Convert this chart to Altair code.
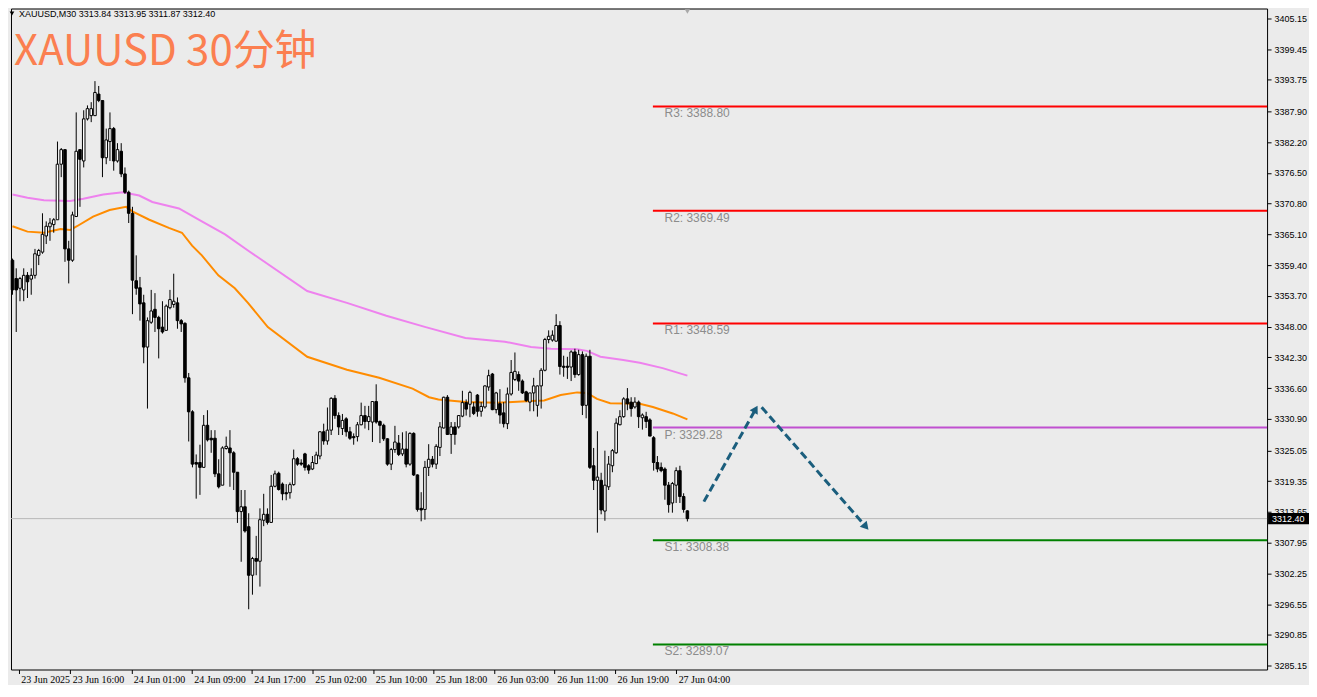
import math
import altair as alt
import pandas as pd

# ---------------- data (XAUUSD M30) ----------------
opens = [3360.3, 3356.9, 3355.1, 3354.8, 3357.5, 3356.8, 3357.5, 3361.2, 3361.8, 3364.8,
         3366.5, 3366.9, 3367.8, 3378.1, 3380.8, 3362.4, 3360.3, 3368.4, 3380.8, 3378.7,
         3386.5, 3387.1, 3387.1, 3391.1, 3389.9, 3379.3, 3382.3, 3384.7, 3378.7, 3380.5,
         3376.3, 3372.9, 3369.0, 3356.5, 3355.2, 3352.4, 3344.2, 3348.8, 3351.2, 3349.7,
         3347.9, 3347.3, 3351.5, 3352.1, 3352.4, 3349.1, 3348.6, 3338.5, 3332.2, 3322.8,
         3322.8, 3321.9, 3329.7, 3327.3, 3327.3, 3320.7, 3318.6, 3325.4, 3325.5, 3324.6,
         3321.0, 3313.7, 3314.6, 3310.9, 3301.9, 3305.0, 3304.5, 3312.1, 3313.2, 3311.7,
         3318.4, 3320.8, 3318.8, 3317.2, 3317.2, 3318.7, 3323.5, 3322.7, 3324.4, 3322.2,
         3321.6, 3322.6, 3324.0, 3328.5, 3326.8, 3328.8, 3334.7, 3331.5, 3329.1, 3330.9,
         3328.5, 3327.6, 3327.6, 3329.8, 3331.5, 3330.4, 3330.3, 3334.1, 3330.4, 3329.7,
         3327.2, 3322.5, 3325.2, 3326.4, 3324.4, 3325.3, 3322.5, 3328.2, 3320.5, 3314.3,
         3314.1, 3321.9, 3323.4, 3322.5, 3325.6, 3329.2, 3334.9, 3328.0, 3329.4, 3329.4,
         3331.4, 3333.9, 3333.6, 3333.1, 3335.3, 3332.3, 3333.1, 3336.8, 3339.2, 3332.6,
         3333.7, 3332.0, 3330.0, 3335.5, 3338.2, 3339.1, 3337.9, 3335.9, 3334.0, 3335.7,
         3333.4, 3337.0, 3339.9, 3345.6, 3345.5, 3345.3, 3348.2, 3340.6, 3340.6, 3340.5,
         3343.3, 3339.1, 3342.8, 3333.4, 3342.5, 3322.2, 3319.5, 3319.5, 3313.8, 3318.3,
         3322.2, 3324.6, 3329.8, 3331.3, 3334.6, 3334.0, 3333.1, 3334.0, 3331.1, 3331.3,
         3330.7, 3327.4, 3322.8, 3321.9, 3321.6, 3318.6, 3315.3, 3318.6, 3321.3, 3316.5,
         3313.84]
highs = [3360.6, 3358.8, 3357.2, 3358.8, 3358.1, 3358.8, 3362.4, 3362.4, 3369.0, 3367.5,
         3368.1, 3368.1, 3382.3, 3381.1, 3380.8, 3363.9, 3369.3, 3387.7, 3380.8, 3388.1,
         3389.0, 3389.6, 3393.5, 3392.6, 3389.9, 3384.7, 3387.7, 3385.0, 3382.0, 3382.0,
         3377.5, 3373.2, 3370.2, 3361.2, 3357.2, 3353.9, 3349.7, 3354.8, 3354.2, 3350.0,
         3352.7, 3352.1, 3354.8, 3357.8, 3353.4, 3349.4, 3348.8, 3339.4, 3332.5, 3324.3,
         3326.1, 3331.6, 3332.5, 3328.8, 3328.8, 3323.4, 3325.8, 3327.6, 3328.8, 3324.9,
         3321.0, 3317.7, 3317.7, 3313.4, 3305.3, 3309.2, 3314.3, 3317.0, 3314.3, 3320.5,
         3321.3, 3321.1, 3319.1, 3318.8, 3319.1, 3325.2, 3323.8, 3323.4, 3324.6, 3322.5,
         3324.0, 3324.8, 3328.6, 3330.0, 3333.0, 3334.9, 3335.3, 3332.1, 3331.8, 3331.2,
         3329.4, 3328.2, 3330.3, 3333.9, 3333.3, 3333.3, 3334.2, 3337.3, 3330.6, 3330.0,
         3327.3, 3325.5, 3329.6, 3327.9, 3328.4, 3328.6, 3328.4, 3328.4, 3320.6, 3317.3,
         3323.1, 3326.2, 3324.0, 3326.2, 3330.3, 3335.0, 3335.3, 3330.3, 3330.3, 3331.6,
         3336.1, 3334.5, 3336.1, 3334.0, 3335.5, 3334.0, 3337.1, 3340.0, 3339.4, 3335.9,
         3336.4, 3334.0, 3336.7, 3341.8, 3343.2, 3339.7, 3338.2, 3336.1, 3335.7, 3338.5,
         3337.1, 3340.3, 3345.9, 3347.3, 3347.3, 3350.3, 3349.0, 3342.6, 3342.4, 3343.6,
         3343.9, 3343.7, 3343.4, 3343.0, 3343.7, 3325.5, 3328.6, 3320.9, 3325.0, 3324.0,
         3325.3, 3331.0, 3332.5, 3334.9, 3336.6, 3334.9, 3334.9, 3334.3, 3331.9, 3332.2,
         3331.0, 3327.7, 3324.0, 3322.8, 3321.9, 3319.2, 3319.2, 3321.9, 3322.2, 3317.1,
         3313.95]
lows = [3353.9, 3347.0, 3352.7, 3352.7, 3353.3, 3353.9, 3356.9, 3359.4, 3361.5, 3363.3,
        3363.9, 3365.4, 3367.8, 3375.7, 3360.0, 3356.0, 3360.0, 3368.4, 3370.2, 3377.5,
        3386.2, 3385.9, 3387.1, 3389.6, 3375.7, 3378.1, 3378.7, 3376.9, 3378.4, 3375.7,
        3372.6, 3367.2, 3350.3, 3353.9, 3349.1, 3341.2, 3332.8, 3348.5, 3347.0, 3342.1,
        3346.7, 3347.3, 3351.2, 3351.5, 3347.6, 3347.0, 3337.6, 3326.7, 3321.9, 3316.1,
        3316.8, 3321.9, 3326.7, 3324.6, 3320.1, 3318.0, 3318.6, 3325.2, 3318.3, 3317.7,
        3311.6, 3304.4, 3309.8, 3295.6, 3298.3, 3301.9, 3299.8, 3311.0, 3311.3, 3311.6,
        3318.2, 3317.6, 3315.8, 3315.8, 3316.1, 3318.5, 3322.2, 3322.2, 3321.3, 3320.7,
        3321.4, 3322.5, 3323.4, 3326.1, 3326.1, 3327.9, 3330.9, 3327.9, 3327.9, 3327.6,
        3327.0, 3326.1, 3326.7, 3329.7, 3329.1, 3328.8, 3326.6, 3330.0, 3326.4, 3326.8,
        3322.2, 3321.4, 3324.6, 3324.0, 3324.0, 3321.9, 3322.2, 3320.3, 3313.7, 3311.9,
        3312.2, 3320.3, 3321.9, 3321.6, 3324.0, 3329.1, 3327.9, 3324.4, 3326.1, 3329.1,
        3331.2, 3331.5, 3331.2, 3331.6, 3331.3, 3331.3, 3332.8, 3336.1, 3332.5, 3331.9,
        3330.0, 3329.3, 3329.0, 3335.2, 3337.9, 3336.1, 3335.5, 3334.0, 3332.3, 3332.3,
        3331.3, 3332.8, 3339.7, 3344.9, 3345.2, 3345.2, 3339.1, 3338.7, 3338.3, 3337.9,
        3338.5, 3338.9, 3331.6, 3331.0, 3321.6, 3317.7, 3309.8, 3313.2, 3312.0, 3317.7,
        3321.0, 3324.4, 3329.7, 3331.1, 3332.5, 3331.3, 3332.8, 3329.2, 3328.9, 3329.2,
        3327.7, 3321.3, 3321.0, 3321.0, 3315.9, 3313.5, 3313.5, 3315.3, 3315.3, 3313.5,
        3311.87]
closes = [3354.8, 3354.8, 3356.9, 3357.5, 3356.3, 3357.5, 3361.5, 3362.1, 3365.1, 3366.6,
          3367.2, 3367.8, 3378.1, 3380.8, 3362.4, 3360.3, 3368.7, 3380.5, 3379.0, 3386.5,
          3388.4, 3388.4, 3391.4, 3389.9, 3379.3, 3382.6, 3384.7, 3378.7, 3380.8, 3376.3,
          3372.9, 3369.0, 3356.6, 3355.1, 3352.2, 3344.2, 3349.1, 3350.9, 3349.7, 3347.6,
          3347.0, 3351.8, 3353.0, 3352.7, 3349.1, 3348.5, 3338.5, 3332.2, 3322.5, 3322.5,
          3321.9, 3329.7, 3327.0, 3327.0, 3320.7, 3318.3, 3325.5, 3325.8, 3324.6, 3321.0,
          3313.7, 3314.6, 3310.1, 3301.9, 3305.0, 3304.5, 3312.2, 3313.2, 3311.7, 3318.4,
          3320.7, 3317.8, 3317.0, 3317.0, 3318.7, 3323.5, 3322.5, 3322.5, 3321.9, 3321.4,
          3322.8, 3324.2, 3328.5, 3326.8, 3328.8, 3334.7, 3331.5, 3329.4, 3330.6, 3328.5,
          3327.3, 3327.4, 3329.8, 3331.5, 3330.4, 3331.3, 3334.1, 3330.3, 3329.7, 3327.2,
          3322.5, 3325.2, 3326.6, 3324.3, 3325.3, 3322.5, 3328.2, 3320.5, 3314.1, 3314.0,
          3321.9, 3323.4, 3322.5, 3325.8, 3329.4, 3334.9, 3328.0, 3329.4, 3328.0, 3331.5,
          3333.9, 3332.7, 3335.8, 3331.9, 3332.3, 3333.2, 3337.0, 3338.9, 3332.6, 3335.7,
          3331.6, 3330.0, 3335.5, 3339.5, 3339.7, 3337.9, 3335.7, 3334.3, 3335.7, 3337.0,
          3337.0, 3339.9, 3345.6, 3346.2, 3346.4, 3348.2, 3340.6, 3340.5, 3340.5, 3343.3,
          3339.1, 3342.8, 3333.4, 3342.5, 3321.9, 3319.5, 3320.1, 3314.0, 3318.6, 3322.5,
          3325.0, 3330.1, 3331.3, 3334.6, 3333.7, 3332.8, 3334.0, 3331.3, 3331.6, 3330.4,
          3327.7, 3322.8, 3321.6, 3321.3, 3318.6, 3315.0, 3318.9, 3321.3, 3316.5, 3314.1,
          3312.40]

x_tick_pos = [1.7, 15.4, 31.7, 47.8, 63.8, 80.1, 96.2, 112.2, 128.6, 144.6, 160.7, 177.0]
x_tick_labels = ["23 Jun 2025", "23 Jun 16:00", "24 Jun 01:00", "24 Jun 09:00",
                 "24 Jun 17:00", "25 Jun 02:00", "25 Jun 10:00", "25 Jun 18:00",
                 "26 Jun 03:00", "26 Jun 11:00", "26 Jun 19:00", "27 Jun 04:00"]
y_ticks = [3405.15, 3399.45, 3393.75, 3387.90, 3382.20, 3376.50, 3370.80, 3365.10,
           3359.40, 3353.70, 3348.00, 3342.30, 3336.60, 3330.90, 3325.05, 3319.35,
           3313.65, 3307.95, 3302.25, 3296.55, 3290.85, 3285.15]

ma_orange_idx = [0, 4.0, 8.4, 12.8, 15.4, 17.2, 21.5, 25.9, 30.3, 32.1, 36.5, 41.7, 45.2,
                 47.9, 50.5, 54.9, 59.3, 62.8, 68.1, 78.6, 89.2, 97.8, 106.7, 111.1, 113.6,
                 120.8, 129.4, 138.3, 141.8, 146.2, 150.6, 153.2, 155.9, 159.4, 167.3, 170.8,
                 176.1, 180]
ma_orange_val = [3366.6, 3365.6, 3365.4, 3366.1, 3365.9, 3366.6, 3368.4, 3369.6, 3370.2,
                 3369.3, 3367.8, 3366.3, 3365.4, 3363.0, 3361.2, 3357.5, 3355.1, 3352.4,
                 3347.9, 3342.4, 3340.0, 3338.5, 3336.5, 3334.9, 3334.5, 3334.0, 3333.9,
                 3334.2, 3334.3, 3335.3, 3335.8, 3335.7, 3334.6, 3333.8, 3333.7, 3333.1,
                 3331.9, 3330.8]
ma_violet_idx = [0, 4.0, 8.4, 15.4, 18.9, 24.2, 29.4, 33.8, 37.3, 44.4, 50.5, 56.7, 62.8,
                 78.6, 89.2, 99.7, 110.2, 120.8, 131.3, 138.3, 143.6, 150.6, 153.2, 156.8,
                 162.9, 167.3, 173.4, 180]
ma_violet_val = [3372.5, 3371.9, 3371.4, 3371.3, 3371.7, 3372.5, 3372.9, 3372.3, 3371.1,
                 3369.9, 3367.5, 3365.1, 3362.1, 3354.6, 3352.4, 3350.0, 3347.9, 3345.9,
                 3345.2, 3344.2, 3343.9, 3343.8, 3343.5, 3342.4, 3341.8, 3341.3, 3340.3,
                 3338.9]

pivot_names = ["R3", "R2", "R1", "P", "S1", "S2"]
pivot_values = [3388.80, 3369.49, 3348.59, 3329.28, 3308.38, 3289.07]
pivot_colors = ["#ff0000", "#ff0000", "#ff0000", "#c050d0", "#008000", "#008000"]
pivot_start = 170.8
pivot_label_at = 173.9

arrow_x0 = [184.4, 199.8]
arrow_y0 = [3315.55, 3333.06]
arrow_x1 = [198.2, 227.6]
arrow_y1 = [3332.7, 3310.9]

last_price = 3312.40
symbol_header = "XAUUSD,M30"
title_text = "XAUUSD 30分钟"

# ---------------- layout ----------------
W, H = 1258, 662
x_dom = [-0.395, 334.6]
y_dom = [3284.43, 3406.96]
BG = "#ebebeb"

xs = alt.Scale(domain=x_dom, nice=False, zero=False)
ys = alt.Scale(domain=y_dom, nice=False, zero=False)

pos_js = "[" + ",".join(str(v) for v in x_tick_pos) + "]"
lab_js = "[" + ",".join("'" + s + "'" for s in x_tick_labels) + "]"

x_axis = alt.Axis(values=x_tick_pos, labelExpr=lab_js + "[indexof(" + pos_js + ", datum.value)]",
                  title=None, grid=False, domain=False, ticks=True, tickSize=4,
                  tickColor="black", labels=True,
                  labelAlign="left", labelBaseline="top", labelPadding=1, labelOffset=2,
                  labelFlush=False, labelOverlap=False, labelBound=False,
                  labelFont="Liberation Sans Narrow", labelFontSize=10, labelColor="black")
y_axis = alt.Axis(values=y_ticks, format=".2f", orient="right", title=None, grid=False,
                  domain=False, ticks=True, tickSize=4, tickColor="black", labels=True,
                  labelPadding=3, labelOverlap=False, labelFlush=False, labelBound=False,
                  labelSeparation=0,
                  labelFont="Liberation Sans", labelFontSize=9, labelColor="black")


# every layer carries the same axis definition so the shared axes merge cleanly
def X(field):
    return alt.X(field, scale=xs, axis=x_axis)


def Y(field):
    return alt.Y(field, scale=ys, axis=y_axis)


candles = pd.DataFrame({"i": list(range(len(opens))), "o": opens, "h": highs,
                        "l": lows, "c": closes})

# bid line
bid = pd.DataFrame({"p": [last_price]})
bid_line = alt.Chart(bid).mark_rule(color="#b9b9b9", strokeWidth=1).encode(y=Y("p:Q"))

wicks = alt.Chart(candles).mark_rule(color="black", strokeWidth=1).encode(
    x=X("i:Q"), y=Y("l:Q"), y2="h:Q")

bodies = alt.Chart(candles).transform_calculate(
    top="max(datum.o, datum.c)", bot="min(datum.o, datum.c)"
).transform_calculate(
    t2="datum.top - datum.bot < 0.2 ? (datum.top + datum.bot) / 2 + 0.1 : datum.top",
    b2="datum.top - datum.bot < 0.2 ? (datum.top + datum.bot) / 2 - 0.1 : datum.bot",
    xl="datum.i - 0.34", xr="datum.i + 0.34"
).mark_rect(stroke="black", strokeWidth=1).encode(
    x=X("xl:Q"), x2="xr:Q", y=Y("b2:Q"), y2="t2:Q",
    fill=alt.condition("datum.c >= datum.o", alt.value("white"), alt.value("black")))

ma_o = alt.Chart(pd.DataFrame({"i": ma_orange_idx, "v": ma_orange_val})).mark_line(
    color="#ff8c00", strokeWidth=2).encode(x=X("i:Q"), y=Y("v:Q"), order="i:Q")
ma_v = alt.Chart(pd.DataFrame({"i": ma_violet_idx, "v": ma_violet_val})).mark_line(
    color="#ee82ee", strokeWidth=2).encode(x=X("i:Q"), y=Y("v:Q"), order="i:Q")

piv = pd.DataFrame({"name": pivot_names, "v": pivot_values, "col": pivot_colors})
piv["x0"] = pivot_start
piv["x1"] = x_dom[1]
piv["lx"] = pivot_label_at
piv["label"] = [n + ": " + f"{v:.2f}" for n, v in zip(pivot_names, pivot_values)]
pivot_lines = alt.Chart(piv).mark_rule(strokeWidth=2).encode(
    x=X("x0:Q"), x2="x1:Q", y=Y("v:Q"),
    color=alt.Color("col:N", scale=None, legend=None))
pivot_labels = alt.Chart(piv).mark_text(
    align="left", baseline="top", dy=2, fontSize=12, font="Liberation Sans",
    color="#8c8c8c").encode(x=X("lx:Q"), y=Y("v:Q"), text="label:N")

# arrows
ppx = W / (x_dom[1] - x_dom[0])
ppy = H / (y_dom[1] - y_dom[0])
angles = []
for a in range(len(arrow_x0)):
    dx = (arrow_x1[a] - arrow_x0[a]) * ppx
    dy = (arrow_y1[a] - arrow_y0[a]) * ppy
    angles.append(math.degrees(math.atan2(dx, dy)) % 360)
arr = pd.DataFrame({"x0": arrow_x0, "y0": arrow_y0, "x1": arrow_x1, "y1": arrow_y1,
                    "ang": angles})
ARROW = "#1b5e7d"
arrow_lines = alt.Chart(arr).mark_rule(color=ARROW, strokeWidth=3, strokeDash=[8, 4]).encode(
    x=X("x0:Q"), x2="x1:Q", y=Y("y0:Q"), y2="y1:Q")
arrow_heads = alt.Chart(arr).mark_point(shape="triangle-up", filled=True, size=85,
                                        color=ARROW, opacity=1).encode(
    x=X("x1:Q"), y=Y("y1:Q"), angle=alt.Angle("ang:Q", scale=None))

# price tag on the right axis
tag = pd.DataFrame({"p": [last_price], "lo": [last_price - 1.05], "hi": [last_price + 1.05],
                    "t": [f"{last_price:.2f}"]})
tag_box = alt.Chart(tag).mark_rect(color="black").encode(
    x=alt.value(W + 1), x2=alt.value(W + 42), y=Y("lo:Q"), y2="hi:Q")
tag_text = alt.Chart(tag).mark_text(align="left", baseline="middle", color="white",
                                    fontSize=9, font="Liberation Sans").encode(
    x=alt.value(W + 5), y=Y("p:Q"), text="t:N")

# shift marker at top
shift = pd.DataFrame({"i": [len(opens) - 1]})
shift_mark = alt.Chart(shift).mark_point(shape="triangle-down", filled=True, size=28,
                                         color="#a8a8a8", opacity=1).encode(
    x=X("i:Q"), y=alt.value(3))

# header texts
hdr = pd.DataFrame({"t": [symbol_header + "  " + " ".join(
    f"{v:.2f}" for v in (opens[-1], highs[-1], lows[-1], closes[-1]))]})
hdr_text = alt.Chart(hdr).mark_text(align="left", baseline="middle", fontSize=9,
                                    font="Liberation Sans", color="black").encode(
    x=alt.value(8), y=alt.value(5), text="t:N")
hdr_arrow = alt.Chart(hdr).mark_point(shape="triangle-down", filled=True, size=22,
                                      color="black", opacity=1).encode(
    x=alt.value(1), y=alt.value(5))
ttl = pd.DataFrame({"t": [title_text]})
title_mark = alt.Chart(ttl).mark_text(align="left", baseline="alphabetic", fontSize=42,
                                      font="Noto Sans CJK SC", color="#fb7f50").encode(
    x=alt.value(3), y=alt.value(57), text="t:N")

chart = alt.layer(
    bid_line, pivot_lines, ma_v, ma_o, wicks, bodies, pivot_labels,
    arrow_lines, arrow_heads, tag_box, tag_text, shift_mark, hdr_arrow, hdr_text, title_mark
).properties(
    width=W, height=H, padding=0, background=BG
).configure_view(
    stroke="black", strokeWidth=1, fill=BG
).configure_axis(
    labelOverlap=False
)

chart.save("out.html", embed_options={"renderer": "svg", "actions": False})
